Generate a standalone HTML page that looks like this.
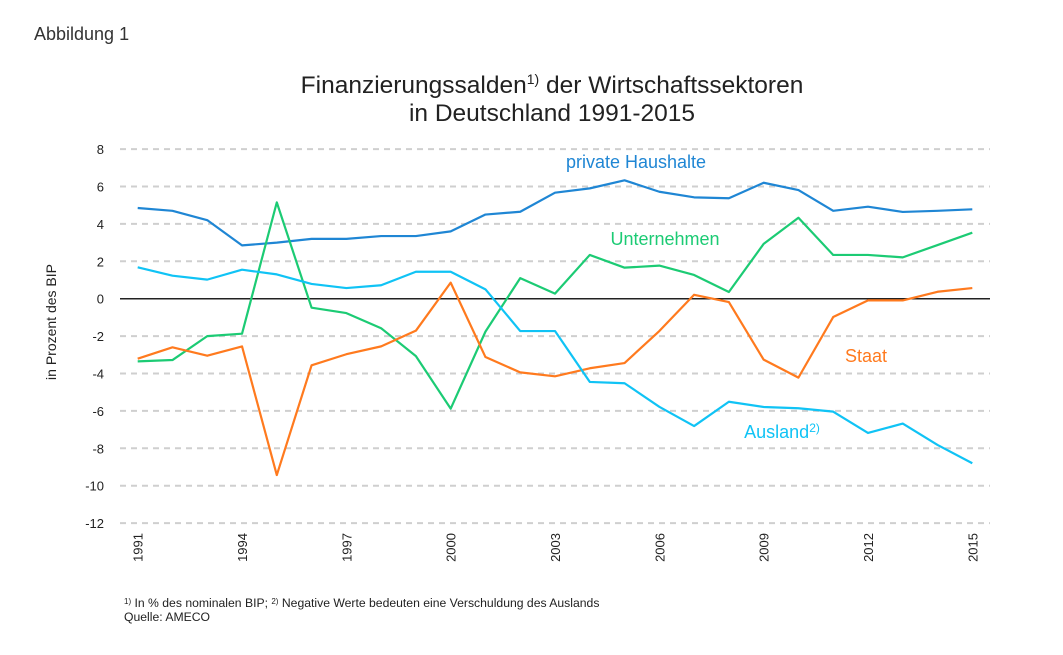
<!DOCTYPE html>
<html><head><meta charset="utf-8"><style>
body{margin:0;background:#fff;font-family:"Liberation Sans",Arial,sans-serif}
svg{display:block}
</style></head><body>
<svg width="1063" height="655" viewBox="0 0 1063 655" id="c">
<text x="34" y="40" font-size="18" fill="#333">Abbildung 1</text>
<text x="552" y="93" text-anchor="middle" font-size="24.5" fill="#222">Finanzierungssalden<tspan font-size="14" dy="-9">1)</tspan><tspan dy="9"> der Wirtschaftssektoren</tspan></text>
<text x="552" y="121" text-anchor="middle" font-size="24.5" fill="#222">in Deutschland 1991-2015</text>
<text transform="translate(56,322) rotate(-90)" text-anchor="middle" font-size="14" fill="#222">in Prozent des BIP</text>
<g id="grid"></g><g id="lines"></g><g id="xt"></g>
<text x="636" y="168" text-anchor="middle" font-size="18" fill="#1f86d4">private Haushalte</text>
<text x="665" y="245" text-anchor="middle" font-size="18" fill="#1ccb74">Unternehmen</text>
<text x="866" y="362" text-anchor="middle" font-size="18" fill="#ff7a1e">Staat</text>
<text x="782" y="438" text-anchor="middle" font-size="18" fill="#10c3f5">Ausland<tspan font-size="12" dy="-6">2)</tspan></text>
<text x="124" y="607" font-size="12.2" fill="#222"><tspan font-size="8" dy="-3">1)</tspan><tspan dy="3"> In % des nominalen BIP; </tspan><tspan font-size="8" dy="-3">2)</tspan><tspan dy="3"> Negative Werte bedeuten eine Verschuldung des Auslands</tspan></text>
<text x="124" y="621" font-size="12.2" fill="#222">Quelle: AMECO</text>
</svg>
<script>
const years=[1991,1992,1993,1994,1995,1996,1997,1998,1999,2000,2001,2002,2003,2004,2005,2006,2007,2008,2009,2010,2011,2012,2013,2014,2015];
const haushalte=[4.85,4.7,4.2,2.85,3.0,3.2,3.2,3.35,3.35,3.6,4.5,4.65,5.67,5.9,6.33,5.72,5.42,5.37,6.2,5.81,4.7,4.92,4.64,4.7,4.78];
const unternehmen=[-3.35,-3.28,-2.0,-1.87,5.15,-0.48,-0.77,-1.58,-3.07,-5.88,-1.76,1.1,0.27,2.34,1.66,1.77,1.27,0.36,2.93,4.33,2.34,2.34,2.21,2.87,3.53];
const staat=[-3.21,-2.6,-3.05,-2.55,-9.43,-3.56,-2.97,-2.55,-1.71,0.86,-3.12,-3.94,-4.15,-3.72,-3.44,-1.73,0.21,-0.18,-3.26,-4.22,-0.98,-0.09,-0.09,0.37,0.57];
const ausland=[1.68,1.23,1.02,1.55,1.3,0.79,0.57,0.72,1.44,1.44,0.5,-1.73,-1.73,-4.45,-4.52,-5.78,-6.81,-5.51,-5.79,-5.86,-6.04,-7.18,-6.68,-7.82,-8.8];
const yTicks=[8,6,4,2,0,-2,-4,-6,-8,-10,-12];
const xTicks=[1991,1994,1997,2000,2003,2006,2009,2012,2015];
const NS="http://www.w3.org/2000/svg";
const X=y=>137.7+(y-1991)*(972.3-137.7)/24;
const Y=v=>298.7-v*18.7;
function mk(t,a,p){const e=document.createElementNS(NS,t);for(const k in a)e.setAttribute(k,a[k]);p.appendChild(e);return e;}
const grid=document.getElementById('grid');
yTicks.forEach(v=>{
 if(v!==0){const l=mk('line',{x1:120,x2:990,y1:Y(v),y2:Y(v),stroke:'#cfcfcf','stroke-width':2,'stroke-dasharray':'6,5'},grid);
 
 }
 const t=mk('text',{x:104,y:Y(v)+5,'text-anchor':'end','font-size':13,fill:'#222'},grid);t.textContent=v;
 
 
});
const zl=mk('line',{x1:120,x2:990,y1:Y(0),y2:Y(0),stroke:'#222','stroke-width':1.5},grid);


const xt=document.getElementById('xt');
xTicks.forEach(yr=>{const t=mk('text',{transform:`translate(${X(yr)+5},533) rotate(-90)`,'text-anchor':'end','font-size':13,fill:'#222'},xt);t.textContent=yr;
 
 });
const lines=document.getElementById('lines');
[[haushalte,'#1f86d4','line-private-haushalte'],[unternehmen,'#1ccb74','line-unternehmen'],[staat,'#ff7a1e','line-staat'],[ausland,'#10c3f5','line-ausland']].forEach(([d,c,n])=>{
 const p=mk('polyline',{points:d.map((v,i)=>X(years[i])+','+Y(v)).join(' '),fill:'none',stroke:c,'stroke-width':2.2,'stroke-linejoin':'round'},lines);
 
 
});
</script>
</body></html>
